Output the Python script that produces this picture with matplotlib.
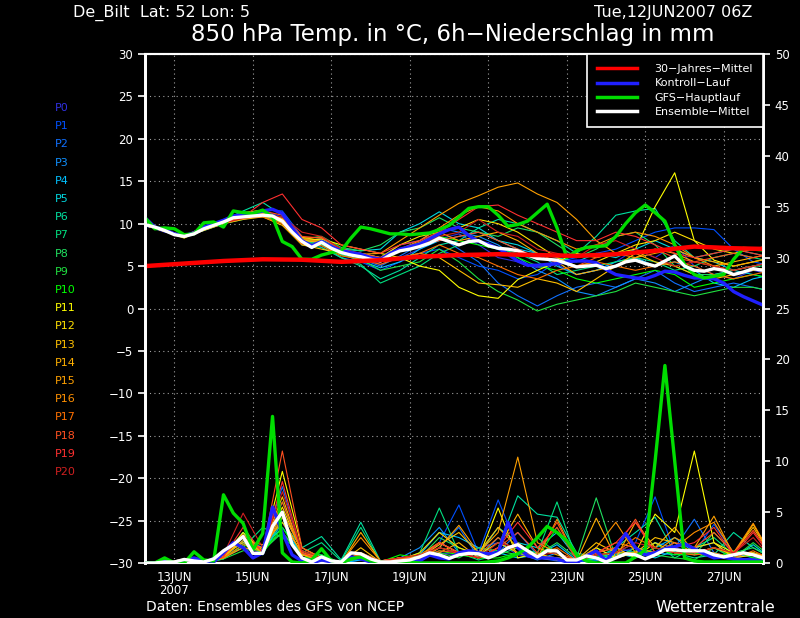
import matplotlib
matplotlib.use("Agg")
import matplotlib.pyplot as plt
from matplotlib.lines import Line2D
import numpy as np

# hours after 12JUN2007 06Z
h6 = np.arange(0, 379, 6)
h12 = np.arange(0, 385, 12)
h24 = np.arange(0, 385, 24)

tick_hours = [18, 66, 114, 162, 210, 258, 306, 354]
tick_labels = ["13JUN\n2007", "15JUN", "17JUN", "19JUN", "21JUN", "23JUN", "25JUN", "27JUN"]

climate_t = [5.0, 5.3, 5.6, 5.8, 5.75, 5.5, 5.7, 6.1, 6.3, 6.4, 6.3, 6.2, 6.4, 6.8, 7.3, 7.1, 7.0]

gfs_t = [10.7, 9.4, 9.5, 9.4, 8.7, 8.8, 10.1, 10.2, 9.6, 11.5,
         11.3, 11.2, 11.6, 10.8, 7.9, 7.3, 5.8, 5.8, 6.3, 6.6,
         6.8, 8.3, 9.6, 9.4, 9.1, 8.8, 8.8, 8.7, 8.8, 8.9,
         9.3, 9.8, 10.8, 11.8, 12.0, 12.0, 11.0, 9.7, 9.9, 10.3,
         11.3, 12.3, 9.5, 6.0, 6.8, 7.2, 7.3, 7.4, 8.5, 10.0,
         11.3, 12.2, 11.3, 10.3, 7.5, 5.2, 4.0, 3.6, 3.8, 4.0,
         5.8, 7.1, 7.0, 6.9]
mean_t = [9.9, 9.6, 9.2, 8.7, 8.5, 8.8, 9.4, 9.8, 10.2, 10.7,
          10.8, 10.9, 11.0, 10.9, 10.3, 9.0, 7.9, 7.2, 7.8, 7.1,
          6.6, 6.3, 6.1, 5.8, 5.6, 6.3, 6.8, 7.0, 7.3, 7.7,
          8.3, 7.9, 7.5, 7.9, 8.0, 7.4, 7.1, 7.0, 6.8, 6.3,
          5.9, 5.8, 5.7, 5.3, 4.9, 5.0, 5.1, 4.7, 5.0, 5.5,
          5.7, 5.3, 5.0, 5.6, 6.2, 5.0, 4.5, 4.4, 4.7, 4.5,
          4.0, 4.3, 4.7, 4.5]
ctrl_t = [10.7, 9.6, 9.3, 8.8, 8.6, 8.9, 9.6, 10.0, 10.4, 10.9,
          11.1, 11.2, 11.5, 11.7, 11.2, 9.5, 8.0, 7.4, 7.9, 7.3,
          6.8, 6.6, 6.4, 6.0, 5.8, 6.5, 7.0, 7.3, 7.6, 8.2,
          8.8, 9.3, 9.6, 8.6, 7.9, 7.6, 7.1, 6.4, 5.6, 5.1,
          5.1, 5.2, 5.3, 5.5, 5.6, 5.6, 5.4, 4.6, 4.0, 3.8,
          3.6, 3.5, 3.9, 4.4, 4.3, 3.9, 3.6, 3.6, 3.5, 3.0,
          2.0, 1.4, 0.9, 0.4]

gfs_p = [0, 0, 0.5, 0, 0, 1.1, 0.3, 0.2, 6.7, 4.9,
         3.9, 1.3, 2.9, 14.4, 1.0, 0.1, 0, 0.3, 1.4, 0.2,
         0, 0.4, 0.6, 0.2, 0.1, 0, 0, 0.1, 0, 0,
         0, 0, 0, 0, 0, 0.1, 0.2, 0.5, 0.9, 1.5,
         2.5, 3.6, 3.0, 2.2, 0.8, 0.2, 0, 0, 0, 0,
         0.6, 1.3, 10.0, 19.4, 10.0, 0.5, 0.2, 0.1, 0.1, 0.1,
         0.1, 0.1, 0.1, 0.1]
mean_p = [0, 0, 0.1, 0.1, 0.35, 0.2, 0.1, 0.4, 1.2, 1.8,
          2.6, 0.95, 0.95, 3.6, 5.0, 1.8, 0.5, 0.1, 0.6, 0.2,
          0.1, 1.0, 0.9, 0.4, 0.1, 0.1, 0.2, 0.3, 0.6, 1.0,
          0.8, 0.45, 0.8, 0.95, 0.9, 0.5, 0.9, 1.5, 1.8, 1.2,
          0.6, 1.2, 1.2, 0.3, 0.3, 0.7, 0.5, 0.1, 0.5, 0.9,
          0.8, 0.4, 0.8, 1.3, 1.3, 1.2, 1.2, 1.2, 0.8, 0.6,
          0.8, 1.0, 0.8, 0.5]
ctrl_p = [0, 0, 0.3, 0, 0.2, 0.5, 0.2, 0.1, 1.0, 2.0,
          1.5, 0.5, 1.0, 5.5, 3.0, 0.8, 0.2, 0, 0.3, 0.1,
          0, 0.6, 0.4, 0.1, 0, 0, 0.1, 0.3, 0.2, 0.8,
          0.5, 0.4, 1.0, 1.2, 1.0, 0.9, 1.0, 4.0, 1.5, 0.7,
          0.5, 0.5, 0.4, 0.1, 0, 0.7, 1.2, 0.2, 1.4, 2.9,
          1.5, 0.8, 1.0, 1.4, 1.6, 1.9, 1.4, 0.9, 0.5, 0.6,
          0.4, 0.3, 0.3, 0.2]

member_names = ["P%d" % i for i in range(21)]
member_colors = ["#3030e0", "#0050ff", "#1070ff", "#1090ff", "#00c0ff", "#00d8e0",
                 "#00e0a0", "#00e080", "#20e060", "#20e040", "#00ff00", "#ffff00",
                 "#ffe000", "#ffc000", "#ffb000", "#ffa000", "#ff9000", "#ff7000",
                 "#ff5020", "#ff3030", "#d02020"]

# 12-hourly member temperatures
member_t = [
    [9.8, 9.0, 8.6, 9.6, 10.5, 11.2, 11.5, 10.8, 8.0, 7.6, 6.5, 6.0, 5.2, 6.0, 7.0, 8.2, 8.8,
     7.5, 6.0, 5.5, 4.8, 5.2, 4.0, 4.5, 5.5, 7.0, 6.0, 7.5, 5.0, 4.0, 3.5, 4.5, 4.0],
    [9.7, 9.3, 8.4, 9.2, 10.0, 11.0, 11.6, 11.5, 8.5, 7.2, 6.0, 5.5, 4.5, 5.5, 6.5, 7.0, 6.0,
     5.0, 4.5, 3.5, 4.0, 5.5, 6.0, 6.5, 7.0, 8.0, 9.0, 9.5, 9.5, 9.3, 7.0, 5.5, 5.0],
    [9.8, 9.1, 8.5, 9.5, 10.3, 10.6, 11.3, 10.0, 7.5, 7.5, 6.8, 5.8, 5.0, 6.2, 7.5, 8.5, 7.0,
     5.5, 3.0, 1.5, 0.3, 1.5, 2.5, 3.0, 2.5, 3.5, 4.5, 3.0, 2.0, 2.5, 3.0, 2.5, 2.0],
    [9.9, 9.2, 8.4, 9.3, 10.1, 10.7, 10.8, 10.2, 7.8, 8.0, 6.6, 6.5, 6.0, 7.5, 8.0, 9.5, 9.0,
     8.5, 7.5, 6.0, 4.5, 3.5, 2.0, 1.5, 2.5, 3.5, 3.0, 2.0, 3.0, 4.0, 4.5, 5.0, 5.5],
    [9.8, 9.2, 8.6, 9.4, 10.2, 11.0, 11.2, 10.6, 8.2, 7.7, 6.4, 5.6, 4.8, 5.5, 7.0, 8.0, 8.5,
     9.0, 8.0, 7.0, 6.5, 5.0, 4.0, 4.5, 5.5, 6.0, 5.0, 5.5, 4.5, 3.0, 2.5, 3.5, 4.0],
    [9.9, 9.3, 8.5, 9.3, 10.0, 10.9, 11.2, 10.5, 8.0, 8.2, 7.0, 6.8, 7.0, 9.0, 10.0, 11.4, 10.0,
     9.5, 8.0, 7.5, 6.5, 6.0, 5.5, 6.5, 6.0, 7.0, 8.0, 7.0, 6.0, 5.5, 4.5, 4.0, 3.5],
    [9.8, 9.2, 8.5, 9.5, 10.4, 11.5, 12.5, 11.0, 8.0, 7.5, 6.0, 5.0, 3.5, 4.5, 6.0, 7.5, 8.0,
     9.5, 10.5, 10.0, 9.0, 8.0, 6.5, 8.5, 11.0, 11.5, 11.8, 8.0, 6.0, 6.5, 7.0, 6.5, 6.0],
    [9.8, 9.1, 8.6, 9.2, 10.0, 10.5, 11.0, 10.5, 7.5, 7.2, 6.0, 5.2, 3.0, 4.0, 5.0, 6.5, 7.5,
     8.0, 7.0, 6.5, 5.5, 4.0, 4.5, 5.0, 5.5, 6.0, 5.5, 4.5, 5.0, 6.0, 6.5, 6.0, 5.5],
    [9.9, 9.3, 8.4, 9.6, 10.3, 11.0, 11.2, 10.4, 8.2, 8.5, 7.2, 6.8, 7.5, 9.0, 9.5, 10.7, 9.5,
     9.0, 8.5, 9.5, 9.0, 7.5, 6.0, 7.0, 8.5, 9.0, 7.5, 5.0, 4.0, 4.0, 4.5, 5.0, 5.0],
    [9.8, 9.2, 8.5, 9.3, 10.2, 10.8, 10.9, 10.2, 7.8, 7.6, 6.3, 5.8, 4.5, 5.0, 5.5, 7.0, 5.5,
     3.5, 2.0, 1.0, -0.3, 0.5, 1.0, 1.5, 2.0, 3.0, 2.5, 2.0, 1.5, 2.0, 2.5, 2.5, 2.0],
    [9.9, 9.2, 8.6, 9.4, 10.1, 10.8, 11.0, 10.3, 8.0, 8.0, 6.8, 6.2, 5.8, 7.0, 7.5, 8.5, 8.0,
     7.5, 7.0, 6.0, 5.0, 4.5, 3.5, 3.0, 3.5, 4.0, 4.5, 4.0, 2.5, 3.0, 3.5, 4.0, 3.5],
    [9.8, 9.1, 8.3, 9.5, 10.4, 11.3, 11.6, 10.0, 8.0, 8.2, 7.5, 7.0, 6.5, 6.0, 5.0, 4.5, 2.5,
     1.5, 1.2, 3.4, 4.5, 5.5, 6.5, 6.0, 6.5, 7.0, 12.0, 16.0, 8.0, 5.7, 5.0, 5.5, 6.0],
    [9.8, 9.3, 8.5, 9.4, 10.3, 10.9, 11.4, 10.6, 8.4, 8.0, 6.8, 6.5, 6.0, 7.5, 8.5, 9.0, 9.5,
     10.5, 10.0, 9.0, 7.5, 6.0, 5.0, 5.5, 6.5, 7.5, 8.0, 9.0, 8.0, 7.0, 6.5, 7.0, 7.5],
    [9.9, 9.2, 8.4, 9.2, 10.0, 10.5, 10.8, 9.8, 7.5, 7.0, 6.5, 6.2, 5.5, 6.0, 6.5, 6.0, 4.5,
     3.0, 2.8, 2.5, 3.5, 3.0, 2.0, 3.5, 5.0, 6.5, 5.5, 5.0, 4.0, 3.5, 4.0, 4.5, 5.0],
    [9.8, 9.1, 8.6, 9.5, 10.2, 10.7, 11.0, 10.4, 8.0, 7.8, 6.6, 6.0, 5.5, 7.0, 7.8, 9.0, 8.0,
     8.5, 9.0, 8.0, 6.5, 5.5, 4.0, 4.5, 5.0, 6.0, 7.0, 6.5, 5.5, 5.0, 5.5, 6.0, 6.5],
    [9.9, 9.3, 8.5, 9.3, 10.1, 10.6, 10.9, 10.5, 8.3, 8.4, 7.0, 6.4, 6.5, 8.0, 9.5, 11.0, 12.4,
     13.3, 14.3, 14.8, 13.5, 12.5, 10.5, 8.0, 6.5, 6.0, 6.5, 7.0, 6.0, 5.5, 5.0, 5.5, 6.0],
    [9.8, 9.2, 8.5, 9.6, 10.3, 10.8, 11.2, 10.6, 8.2, 7.9, 6.8, 6.3, 5.5, 7.0, 8.0, 9.5, 11.0,
     12.0, 11.5, 10.0, 9.0, 8.0, 7.0, 7.5, 8.5, 9.0, 8.5, 7.5, 6.0, 5.0, 4.5, 5.0, 5.5],
    [9.9, 9.2, 8.4, 9.3, 10.0, 10.7, 10.8, 10.0, 7.6, 7.4, 6.2, 5.8, 5.2, 6.0, 6.5, 7.5, 6.5,
     6.0, 5.0, 4.0, 3.5, 4.5, 5.0, 5.5, 5.0, 4.5, 5.0, 5.5, 5.0, 4.0, 3.5, 4.0, 4.5],
    [9.8, 9.1, 8.6, 9.4, 10.4, 11.2, 11.5, 11.0, 8.5, 8.3, 7.0, 6.5, 6.0, 7.0, 7.5, 8.0, 8.5,
     9.0, 8.0, 7.0, 6.0, 5.5, 5.0, 6.0, 6.5, 6.5, 7.0, 6.0, 5.5, 6.0, 6.5, 6.0, 6.5],
    [9.9, 9.3, 8.5, 9.5, 10.2, 10.8, 12.5, 13.5, 10.5, 9.5, 7.5, 7.0, 6.5, 7.5, 8.0, 9.0, 10.5,
     12.0, 12.2, 11.0, 10.0, 9.0, 8.0, 8.0, 9.0, 8.5, 7.5, 6.5, 6.0, 6.5, 7.0, 6.5, 6.0],
    [9.8, 9.2, 8.5, 9.4, 10.1, 10.6, 11.0, 10.8, 9.0, 8.5, 7.0, 6.2, 6.0, 6.8, 7.5, 8.5, 9.0,
     10.5, 9.0, 8.5, 7.0, 6.5, 6.0, 7.5, 8.0, 7.0, 6.0, 5.0, 5.5, 5.0, 4.5, 5.0, 5.5],
]

# 12-hourly member 6h precipitation
member_p = [
    [0, 0, 0.3, 0, 0.5, 1.5, 1.0, 4.0, 0.5, 0.2, 0, 0.5, 0, 0.2, 0.5, 1.0, 0.8,
     1.5, 2.0, 0.8, 0.5, 0.3, 0.2, 0.8, 1.0, 1.5, 0.8, 1.5, 1.0, 0.6, 0.3, 0.5, 0.3],
    [0, 0, 0.2, 0, 0.8, 2.0, 1.2, 6.0, 1.0, 0, 0, 0.3, 0.1, 0, 0.5, 2.0, 5.7,
     1.0, 6.2, 1.5, 0.5, 0.2, 0, 0.5, 1.0, 2.0, 6.5, 1.0, 1.0, 3.8, 1.0, 0.5, 0.3],
    [0, 0, 0.4, 0.1, 1.0, 2.5, 1.5, 7.5, 0.8, 0.3, 0, 0.5, 0, 0.3, 0.3, 1.5, 3.5,
     0.5, 1.0, 3.0, 0.8, 0.5, 0.3, 0.2, 1.5, 1.0, 2.0, 1.5, 4.3, 1.0, 0.5, 0.8, 0.2],
    [0, 0, 0.2, 0, 0.5, 2.2, 1.0, 5.0, 1.2, 0.5, 0.1, 0.8, 0.1, 0.5, 1.5, 3.5, 1.0,
     0.5, 2.5, 1.0, 0.3, 1.0, 0.2, 0.5, 0.5, 1.5, 1.0, 0.8, 1.5, 2.0, 0.5, 0.3, 0.2],
    [0, 0, 0.3, 0, 0.6, 3.0, 0.8, 4.5, 0.5, 0.2, 0, 0.3, 0, 0.2, 0.8, 3.0, 2.5,
     1.5, 1.0, 0.5, 0.8, 1.8, 0.3, 0.5, 1.0, 0.5, 1.5, 2.5, 1.0, 1.5, 0.5, 1.0, 0.4],
    [0, 0, 0.2, 0, 0.4, 1.8, 1.5, 3.5, 0.8, 0.8, 0, 0.6, 0, 0.5, 0.5, 2.0, 1.0,
     0.8, 3.5, 2.0, 1.5, 3.0, 0.5, 0.3, 0.8, 1.0, 0.5, 1.2, 0.8, 1.0, 0.5, 1.8, 0.3],
    [0, 0, 0.3, 0, 0.5, 2.5, 1.0, 4.0, 1.5, 2.6, 0.3, 4.0, 0.2, 0.5, 0.3, 1.5, 1.0,
     0.5, 1.5, 6.6, 4.8, 4.5, 1.0, 0.5, 1.5, 3.0, 4.5, 1.0, 0.5, 0.8, 3.0, 1.5, 0.5],
    [0, 0, 0.2, 0, 0.7, 1.5, 3.5, 2.5, 1.0, 2.0, 0.2, 3.5, 0.1, 0.3, 1.0, 5.4, 1.0,
     0.3, 0.8, 1.5, 1.0, 6.0, 0.3, 1.5, 0.5, 1.0, 2.0, 0.5, 1.5, 2.5, 0.8, 1.0, 0.3],
    [0, 0, 0.3, 0.1, 0.8, 2.0, 1.2, 3.0, 0.5, 0.5, 0.1, 1.0, 0.2, 0.4, 0.5, 2.5, 1.5,
     0.8, 1.0, 1.8, 0.8, 2.0, 0.5, 6.4, 0.5, 1.5, 1.0, 2.0, 0.8, 3.0, 1.0, 1.5, 0.4],
    [0, 0, 0.2, 0, 0.4, 1.2, 1.5, 3.0, 0.8, 0.3, 0, 0.5, 0, 0.2, 0.3, 1.0, 0.5,
     1.5, 1.2, 0.8, 2.5, 1.0, 0.2, 0.8, 0.5, 1.2, 0.8, 0.5, 0.3, 1.5, 0.5, 2.0, 0.5],
    [0, 0, 0.3, 0, 0.5, 1.8, 1.0, 3.5, 0.5, 0.8, 0, 1.0, 0.1, 0.8, 0.5, 1.2, 0.8,
     0.5, 0.5, 1.0, 0.5, 3.5, 0.3, 0.5, 1.2, 0.5, 1.5, 0.8, 1.0, 0.5, 1.2, 0.5, 0.3],
    [0, 0, 0.3, 0, 0.6, 3.0, 1.2, 9.0, 1.5, 0.5, 0.1, 0.8, 0.2, 0.5, 0.6, 2.0, 1.0,
     0.5, 5.4, 0.5, 1.0, 0.3, 0.2, 1.5, 0.5, 1.0, 4.8, 3.0, 11.0, 2.0, 1.0, 1.0, 0.4],
    [0, 0, 0.2, 0, 0.5, 2.5, 1.0, 5.5, 1.0, 0.3, 0, 0.8, 0, 0.3, 1.0, 3.0, 1.5,
     0.8, 2.0, 1.0, 0.5, 0.3, 0.2, 1.0, 1.5, 0.5, 2.0, 1.0, 1.5, 2.0, 0.5, 0.8, 0.3],
    [0, 0, 0.4, 0.1, 0.8, 2.0, 1.5, 6.5, 0.8, 0.5, 0.1, 1.5, 0.1, 0.5, 0.5, 1.8, 3.0,
     1.0, 3.5, 1.5, 0.8, 0.5, 0.3, 2.0, 1.0, 1.0, 2.5, 2.0, 1.0, 1.5, 0.8, 3.8, 0.4],
    [0, 0, 0.3, 0, 0.6, 2.2, 1.8, 4.0, 1.0, 0.5, 0, 3.0, 0.2, 0.3, 0.5, 1.0, 2.0,
     0.5, 1.5, 4.8, 1.5, 0.8, 0.2, 4.4, 0.5, 4.0, 1.5, 3.5, 1.0, 1.5, 1.0, 3.5, 0.5],
    [0, 0, 0.2, 0, 0.5, 1.5, 1.2, 4.5, 0.8, 0.2, 0, 1.0, 0.1, 0.5, 0.3, 1.5, 3.7,
     1.0, 3.0, 10.4, 2.0, 1.0, 0.3, 1.0, 2.0, 1.5, 1.0, 2.5, 1.5, 4.6, 0.8, 1.0, 0.3],
    [0, 0, 0.3, 0, 0.7, 2.8, 1.0, 5.0, 1.2, 0.5, 0.1, 2.5, 0.2, 0.5, 0.8, 2.0, 1.0,
     0.5, 1.0, 2.0, 0.5, 4.3, 0.3, 1.5, 4.0, 1.0, 0.8, 1.5, 3.0, 4.0, 1.0, 3.9, 0.5],
    [0, 0, 0.2, 0, 0.5, 1.8, 1.5, 6.0, 1.0, 0.3, 0, 0.8, 0, 0.3, 0.5, 1.5, 1.0,
     0.8, 2.5, 1.0, 0.8, 1.5, 0.2, 0.8, 1.0, 2.5, 1.5, 1.0, 0.8, 1.0, 0.5, 1.2, 0.3],
    [0, 0, 0.3, 0, 0.8, 2.5, 1.2, 11.0, 1.5, 0.5, 0.1, 1.0, 0.2, 0.5, 0.5, 1.2, 1.0,
     0.5, 1.5, 3.0, 1.0, 4.0, 0.3, 1.0, 1.5, 4.3, 1.0, 2.0, 1.5, 3.0, 1.0, 3.2, 0.5],
    [0, 0, 0.2, 0, 0.6, 3.5, 1.0, 8.0, 1.0, 0.3, 0, 0.6, 0.1, 0.3, 0.5, 2.0, 1.0,
     0.5, 1.5, 4.0, 1.5, 3.5, 0.3, 1.0, 2.0, 4.0, 1.0, 1.5, 2.0, 3.5, 0.8, 3.0, 0.4],
    [0, 0, 0.3, 0, 0.8, 4.9, 1.5, 7.0, 1.2, 0.5, 0.1, 0.8, 0.2, 0.5, 0.8, 1.5, 1.0,
     0.5, 2.0, 1.5, 0.8, 1.0, 0.2, 0.8, 1.0, 2.0, 1.5, 1.0, 1.0, 1.5, 1.0, 2.5, 0.4],
]

fig = plt.figure(figsize=(8, 6.18), dpi=100, facecolor="black")
ax = fig.add_axes([0.18125, 0.089, 0.7725, 0.8236], facecolor="black")
ax2 = ax.twinx()

for i in range(21):
    ax.plot(h12, member_t[i], color=member_colors[i], lw=0.8, zorder=2)
    ax2.plot(h12, member_p[i], color=member_colors[i], lw=0.8, zorder=2)

ax.plot(h6, ctrl_t, color="#2020ff", lw=2.4, zorder=4)
ax.plot(h6, gfs_t, color="#00dd00", lw=2.4, zorder=5)
ax.plot(h6, mean_t, color="white", lw=2.4, zorder=6)
ax.plot(h24, climate_t, color="#ff0000", lw=3.2, zorder=7)

ax2.plot(h6, ctrl_p, color="#2020ff", lw=2.4, zorder=4)
ax2.plot(h6, gfs_p, color="#00dd00", lw=2.4, zorder=5)
ax2.plot(h6, mean_p, color="white", lw=2.4, zorder=6)

ax.set_xlim(0, 378)
ax.set_ylim(-30, 30)
ax2.set_ylim(0, 50)
ax.set_xticks(tick_hours)
ax.set_xticklabels(tick_labels, linespacing=1.0)
ax.set_yticks(np.arange(-30, 31, 5))
ax.set_yticklabels([str(v).replace("-", "\u2212") for v in range(-30, 31, 5)])
ax2.set_yticks(np.arange(0, 51, 5))

ax.grid(True, color="#a0a0a0", linestyle=(0, (1, 3)), lw=0.8)
for a in (ax, ax2):
    a.tick_params(colors="white", labelsize=8.5, width=1.2, length=5)
    for s in a.spines.values():
        s.set_color("white")
    a.spines["left"].set_linewidth(2)
    a.spines["right"].set_linewidth(2)
    a.spines["top"].set_linewidth(1.5)
    a.spines["bottom"].set_linewidth(1.5)
ax.tick_params(axis="x", length=0, pad=6)

handles = [Line2D([], [], color="#ff0000", lw=2.5),
           Line2D([], [], color="#2020ff", lw=2.5),
           Line2D([], [], color="#00dd00", lw=2.5),
           Line2D([], [], color="white", lw=2.5)]
names = ["30\u2212Jahres\u2212Mittel", "Kontroll\u2212Lauf", "GFS\u2212Hauptlauf", "Ensemble\u2212Mittel"]
leg = ax2.legend(handles, names, loc="upper right", fontsize=8, handlelength=3.6,
                 handletextpad=1.6, borderpad=0.9, labelspacing=0.4,
                 facecolor="black", edgecolor="white", framealpha=1, fancybox=False,
                 borderaxespad=0)
leg.get_frame().set_linewidth(1.2)
leg.set_zorder(20)
for t in leg.get_texts():
    t.set_color("white")

for i, name in enumerate(member_names):
    fig.text(55 / 800, 1 - (108 + i * 18.2) / 618, name, color=member_colors[i],
             fontsize=8, va="center", ha="left")

fig.text(73 / 800, 1 - 17 / 618, "De_Bilt  Lat: 52 Lon: 5", color="white", fontsize=11.5,
         va="baseline")
fig.text(752 / 800, 1 - 17 / 618, "Tue,12JUN2007 06Z", color="white", fontsize=11.5,
         va="baseline", ha="right")
fig.text(453 / 800, 1 - 41 / 618, "850 hPa Temp. in \u00b0C, 6h\u2212Niederschlag in mm",
         color="white", fontsize=16.5, va="baseline", ha="center")
fig.text(146 / 800, 1 - 607 / 618, "Daten: Ensembles des GFS von NCEP", color="white",
         fontsize=10, va="center")
fig.text(775 / 800, 1 - 607 / 618, "Wetterzentrale", color="white", fontsize=11.5,
         va="center", ha="right")

fig.savefig("out.png", dpi=100, facecolor="black")
